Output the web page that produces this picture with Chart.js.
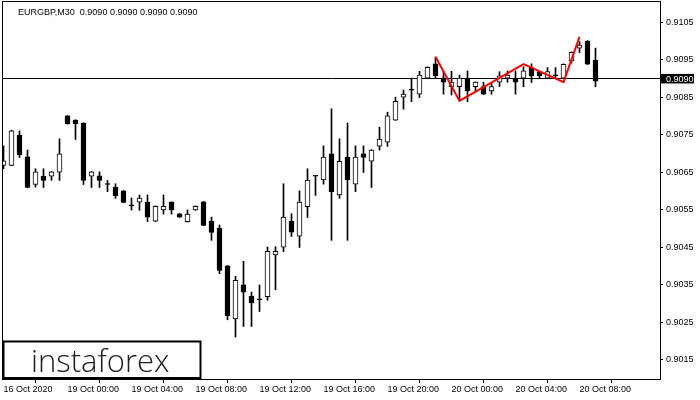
<!DOCTYPE html>
<html>
<head>
<meta charset="utf-8">
<script src="https://cdn.jsdelivr.net/npm/chart.js@4.4.1/dist/chart.umd.min.js"></script>
<style>
  html, body { margin: 0; padding: 0; background: #fff; }
  #wrap { width: 700px; height: 400px; }
</style>
</head>
<body>
<div id="wrap"><canvas id="chart"></canvas></div>
<script>
const symbolTitle = 'EURGBP,M30  0.9090 0.9090 0.9090 0.9090';
const lastPrice = 0.9090;

// OHLC, one entry per 30 min bar (bar 0 = 16 Oct, bar 8 = 19 Oct 00:00)
const opens = [
  0.90668, 0.90668, 0.90749, 0.90691, 0.90617, 0.90639, 0.90639, 0.90650, 0.90800, 0.90789,
  0.90781, 0.90639, 0.90640, 0.90617, 0.90610, 0.90600, 0.90560, 0.90570, 0.90570, 0.90519,
  0.90549, 0.90570, 0.90539, 0.90518, 0.90549, 0.90571, 0.90519, 0.90501, 0.90400, 0.90258,
  0.90349, 0.90319, 0.90309, 0.90318, 0.90429, 0.90450, 0.90519, 0.90479, 0.90558, 0.90639,
  0.90629, 0.90699, 0.90589, 0.90690, 0.90618, 0.90699, 0.90679, 0.90719, 0.90730, 0.90789,
  0.90850, 0.90869, 0.90858, 0.90901, 0.90939, 0.90901, 0.90878, 0.90878, 0.90901, 0.90878,
  0.90878, 0.90867, 0.90890, 0.90901, 0.90901, 0.90901, 0.90929, 0.90918, 0.90901, 0.90907,
  0.90901, 0.90947, 0.90981, 0.91000, 0.90949
];
const highs = [
  0.90720, 0.90762, 0.90760, 0.90709, 0.90659, 0.90659, 0.90652, 0.90739, 0.90801, 0.90790,
  0.90782, 0.90652, 0.90651, 0.90628, 0.90619, 0.90601, 0.90581, 0.90589, 0.90589, 0.90560,
  0.90589, 0.90571, 0.90540, 0.90549, 0.90560, 0.90572, 0.90530, 0.90509, 0.90401, 0.90372,
  0.90412, 0.90330, 0.90349, 0.90450, 0.90451, 0.90619, 0.90539, 0.90600, 0.90659, 0.90640,
  0.90720, 0.90819, 0.90739, 0.90781, 0.90720, 0.90720, 0.90710, 0.90770, 0.90810, 0.90850,
  0.90869, 0.90901, 0.90919, 0.90931, 0.90957, 0.90919, 0.90919, 0.90909, 0.90920, 0.90891,
  0.90890, 0.90889, 0.90918, 0.90920, 0.90920, 0.90931, 0.90939, 0.90919, 0.90929, 0.90929,
  0.90939, 0.90971, 0.90998, 0.91001, 0.90981
];
const lows = [
  0.90659, 0.90667, 0.90689, 0.90608, 0.90610, 0.90609, 0.90628, 0.90628, 0.90778, 0.90737,
  0.90617, 0.90609, 0.90609, 0.90598, 0.90580, 0.90568, 0.90549, 0.90548, 0.90518, 0.90518,
  0.90538, 0.90538, 0.90529, 0.90517, 0.90548, 0.90507, 0.90468, 0.90379, 0.90256, 0.90210,
  0.90238, 0.90238, 0.90278, 0.90308, 0.90336, 0.90438, 0.90478, 0.90449, 0.90529, 0.90588,
  0.90618, 0.90468, 0.90580, 0.90468, 0.90598, 0.90649, 0.90609, 0.90709, 0.90719, 0.90788,
  0.90818, 0.90838, 0.90849, 0.90900, 0.90901, 0.90858, 0.90856, 0.90843, 0.90838, 0.90865,
  0.90857, 0.90858, 0.90878, 0.90890, 0.90858, 0.90878, 0.90889, 0.90901, 0.90900, 0.90901,
  0.90900, 0.90941, 0.90969, 0.90937, 0.90878
];
const closes = [
  0.90680, 0.90760, 0.90696, 0.90609, 0.90651, 0.90628, 0.90651, 0.90699, 0.90779, 0.90779,
  0.90628, 0.90651, 0.90628, 0.90617, 0.90587, 0.90569, 0.90560, 0.90581, 0.90530, 0.90559,
  0.90559, 0.90549, 0.90530, 0.90538, 0.90559, 0.90508, 0.90489, 0.90388, 0.90267, 0.90361,
  0.90330, 0.90301, 0.90309, 0.90439, 0.90439, 0.90530, 0.90490, 0.90570, 0.90629, 0.90639,
  0.90690, 0.90598, 0.90679, 0.90629, 0.90690, 0.90689, 0.90709, 0.90738, 0.90800, 0.90839,
  0.90858, 0.90869, 0.90909, 0.90930, 0.90907, 0.90890, 0.90890, 0.90901, 0.90867, 0.90890,
  0.90858, 0.90878, 0.90907, 0.90909, 0.90890, 0.90920, 0.90907, 0.90907, 0.90918, 0.90907,
  0.90938, 0.90970, 0.90989, 0.90938, 0.90893
];

const tickBars = [0, 8, 16, 24, 32, 40, 48, 56, 64, 72];
const tickLabels = ['16 Oct 2020', '19 Oct 00:00', '19 Oct 04:00', '19 Oct 08:00', '19 Oct 12:00',
  '19 Oct 16:00', '19 Oct 20:00', '20 Oct 00:00', '20 Oct 04:00', '20 Oct 08:00'];
const priceTicks = [0.9015, 0.9025, 0.9035, 0.9045, 0.9055, 0.9065, 0.9075, 0.9085, 0.9095, 0.9105];

// red pattern line
const patternBars = [54, 57, 65, 70, 72];
const patternPrices = [0.90958, 0.90840, 0.90938, 0.90890, 0.91011];

const wickData = opens.map((o, i) => ({ x: i, y: [lows[i], highs[i]] }));
const bodyData = opens.map((o, i) => ({ x: i, y: [o, closes[i]] }));
const bodyColors = opens.map((o, i) => closes[i] > o ? '#ffffff' : '#000000');
const patternData = patternBars.map((b, i) => ({ x: b, y: patternPrices[i] }));

// bid line, price box, frame, title and logo
const overlay = {
  id: 'overlay',
  beforeDatasetsDraw(chart) {
    const { ctx, chartArea: a, scales: { y } } = chart;
    const py = Math.round(y.getPixelForValue(lastPrice)) + 0.5;
    ctx.save();
    ctx.strokeStyle = '#000';
    ctx.lineWidth = 1;
    ctx.beginPath();
    ctx.moveTo(a.left, py);
    ctx.lineTo(a.right, py);
    ctx.stroke();
    ctx.restore();
  },
  afterDraw(chart) {
    const { ctx, chartArea: a, scales: { y } } = chart;
    ctx.save();
    ctx.strokeStyle = '#000';
    ctx.lineWidth = 1;
    ctx.strokeRect(a.left - 0.5, a.top - 0.5, a.right - a.left + 1, a.bottom - a.top + 1);

    const py = y.getPixelForValue(lastPrice);
    ctx.fillStyle = '#000';
    ctx.fillRect(a.right + 1, py - 4.5, 33, 9.5);
    ctx.fillStyle = '#fff';
    ctx.font = '9px "Liberation Sans"';
    ctx.textBaseline = 'alphabetic';
    ctx.fillText(lastPrice.toFixed(4), a.right + 6, py + 3.5);

    ctx.fillStyle = '#000';
    ctx.fillText(symbolTitle, a.left + 15, a.top + 13);

    ctx.fillStyle = '#fff';
    ctx.fillRect(3.5, 341.5, 197, 36.5);
    ctx.lineWidth = 2;
    ctx.strokeRect(3.5, 341.5, 197, 36.5);
    ctx.fillStyle = '#1e1e1e';
    ctx.font = '300 31px "Open Sans"';
    ctx.fillText('instaforex', 31, 372);
    ctx.restore();
  }
};

new Chart(document.getElementById('chart'), {
  type: 'bar',
  data: {
    datasets: [
      { type: 'line', data: patternData, borderColor: '#ff0000', borderWidth: 2, pointRadius: 0, tension: 0, order: 1 },
      { data: bodyData, backgroundColor: bodyColors, borderColor: '#000', borderWidth: 1, borderSkipped: false,
        barThickness: 5, minBarLength: 1, grouped: false, order: 2 },
      { data: wickData, backgroundColor: '#000', borderWidth: 0, barThickness: 1, grouped: false, order: 3 }
    ]
  },
  options: {
    responsive: true,
    maintainAspectRatio: false,
    animation: false,
    layout: { padding: { left: 3, top: 2, right: 0, bottom: 0 } },
    plugins: { legend: { display: false }, tooltip: { enabled: false } },
    scales: {
      x: {
        type: 'linear', min: -0.0625, max: 82.0625, offset: false,
        afterBuildTicks: s => { s.ticks = tickBars.map(v => ({ value: v })); },
        afterFit: s => { s.height = 21; s.paddingLeft = 0; s.paddingRight = 0; },
        grid: { drawOnChartArea: false, tickLength: 4, color: '#000' },
        border: { display: false },
        ticks: {
          autoSkip: false, maxRotation: 0, align: 'start', padding: 1, color: '#000',
          font: { family: '"Liberation Sans Narrow", "Liberation Sans"', size: 9 },
          callback: (v, i) => tickLabels[i]
        }
      },
      y: {
        position: 'right', min: 0.90098, max: 0.91104,
        afterBuildTicks: s => { s.ticks = priceTicks.map(v => ({ value: v })); },
        afterFit: s => { s.width = 40; s.paddingTop = 0; s.paddingBottom = 0; },
        grid: { drawOnChartArea: false, tickLength: 3, color: '#000' },
        border: { display: false },
        ticks: {
          padding: 3, color: '#000',
          font: { family: '"Liberation Sans"', size: 9 },
          callback: v => v.toFixed(4)
        }
      }
    }
  },
  plugins: [overlay]
});
</script>
</body>
</html>
